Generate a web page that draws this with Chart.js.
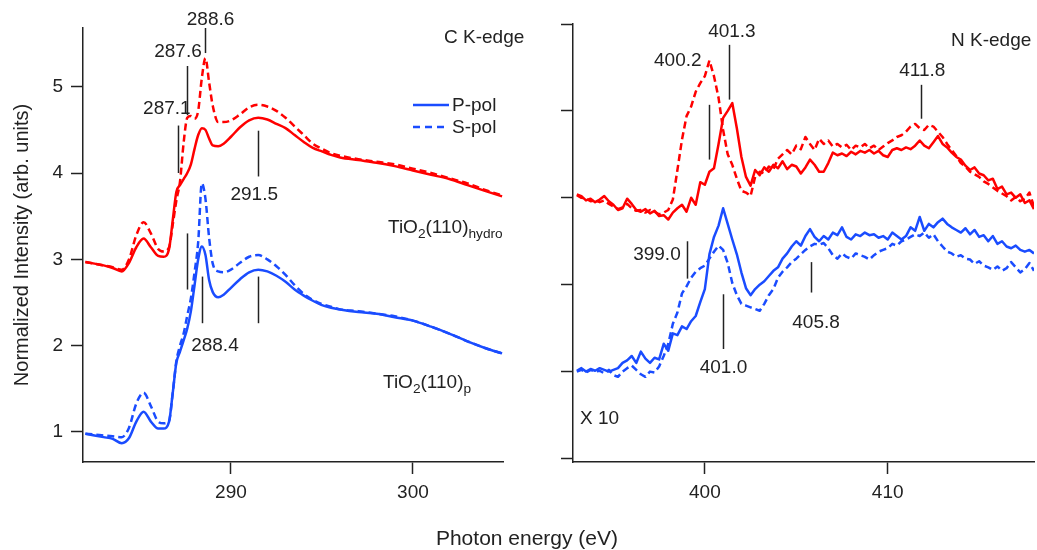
<!DOCTYPE html>
<html>
<head>
<meta charset="utf-8">
<script src="https://cdn.jsdelivr.net/npm/chart.js@4.4.1/dist/chart.umd.min.js"></script>
<style>
  html, body { margin:0; padding:0; background:#fff; }
  #wrap { position:relative; width:1037px; height:550px; background:#fff; overflow:hidden; }
  canvas { position:absolute; top:0; }
  .t { position:absolute; font-family:'Liberation Sans', Arial, sans-serif; font-size:19px; line-height:20px; color:#222; white-space:nowrap; }
  .t sub { font-size:0.72em; vertical-align:-0.35em; line-height:0; }
</style>
</head>
<body>
<div id="wrap">
  <canvas id="cL" width="520" height="550" style="left:0"></canvas>
  <canvas id="cR" width="497" height="550" style="left:540px"></canvas>
  <div class="t" style="left:444px;top:27px">C K-edge</div>
  <div class="t" style="left:951px;top:30px">N K-edge</div>
  <div class="t" style="left:580px;top:408px">X 10</div>
  <div class="t" style="left:388px;top:217px">TiO<sub>2</sub>(110)<sub>hydro</sub></div>
  <div class="t" style="left:383px;top:372px">TiO<sub>2</sub>(110)<sub>p</sub></div>
  <svg style="position:absolute;left:413px;top:95px" width="36" height="40">
    <line x1="0" y1="10" x2="36" y2="10" stroke="#1a4cff" stroke-width="2.5"/>
    <line x1="0" y1="32" x2="36" y2="32" stroke="#1a4cff" stroke-width="2.5" stroke-dasharray="7 5"/>
  </svg>
  <div class="t" style="left:452px;top:95px">P-pol</div>
  <div class="t" style="left:452px;top:117px">S-pol</div>
  <div class="t" style="left:0;width:1054px;text-align:center;top:527px;font-size:21px;line-height:22px">Photon energy (eV)</div>
</div>
<script>
// ---------- C K-edge panel data ----------
const cEnergy = [282.0,282.5,283.0,283.5,284.0,284.4,284.8,285.2,285.6,286.0,286.3,286.6,286.8,287.0,287.2,287.4,287.6,287.8,288.0,288.2,288.4,288.6,288.8,289.0,289.3,289.6,290.0,290.5,291.0,291.5,292.0,292.5,293.0,293.5,294.0,294.5,295.0,295.5,296.0,297.0,298.0,299.0,300.0,301.0,302.0,303.0,304.0,304.9];
const cHydroP = [2.97,2.95,2.93,2.90,2.86,2.96,3.14,3.24,3.14,3.04,3.03,3.12,3.45,3.78,3.86,3.93,4.00,4.10,4.28,4.44,4.52,4.50,4.40,4.32,4.31,4.34,4.42,4.53,4.61,4.64,4.62,4.57,4.52,4.44,4.36,4.29,4.25,4.21,4.18,4.15,4.12,4.08,4.03,3.98,3.93,3.86,3.79,3.73];
const cHydroS = [2.97,2.95,2.93,2.91,2.88,3.00,3.28,3.43,3.30,3.12,3.09,3.14,3.40,3.68,3.90,4.35,4.64,4.66,4.63,4.72,5.10,5.33,5.05,4.78,4.59,4.59,4.61,4.68,4.76,4.79,4.77,4.72,4.64,4.54,4.44,4.34,4.28,4.23,4.20,4.16,4.13,4.10,4.05,4.00,3.94,3.88,3.80,3.74];
const cCleanP = [0.98,0.96,0.94,0.92,0.87,0.93,1.12,1.235,1.12,1.04,1.04,1.12,1.45,1.80,1.93,2.06,2.20,2.40,2.70,3.00,3.15,3.05,2.76,2.62,2.56,2.59,2.67,2.77,2.85,2.88,2.86,2.81,2.74,2.65,2.58,2.52,2.47,2.44,2.42,2.39,2.37,2.33,2.29,2.22,2.14,2.05,1.97,1.91];
const cCleanS = [0.98,0.97,0.96,0.95,0.94,1.05,1.33,1.455,1.30,1.12,1.10,1.13,1.45,1.82,2.00,2.14,2.35,2.55,2.85,3.20,3.88,3.70,3.25,2.95,2.86,2.85,2.88,2.96,3.03,3.05,3.00,2.92,2.82,2.70,2.60,2.53,2.48,2.45,2.42,2.40,2.37,2.34,2.29,2.22,2.14,2.05,1.97,1.91];
const cXTicks = [290, 300];
const cYTicks = [1, 2, 3, 4, 5];
const cMarkX  = [287.1, 287.6, 288.6, 291.5, 287.6, 288.4, 291.5];
const cMarkLo = [4.00, 4.67, 5.39, 3.96, 2.65, 2.26, 2.26];
const cMarkHi = [4.55, 5.24, 5.68, 4.49, 3.30, 2.80, 2.80];
const cLabelText = ['287.1', '287.6', '288.6', '291.5', '288.4'];
const cLabelX = [286.48, 287.09, 288.88, 291.28, 289.12];
const cLabelY = [4.75, 5.41, 5.77, 3.75, 2.00];

// ---------- N K-edge panel data ----------
const nEnergy = [393,393.25,393.5,393.75,394,394.25,394.5,394.75,395,395.25,395.5,395.75,396,396.25,396.5,396.75,397,397.25,397.5,397.75,398,398.25,398.5,398.75,399,399.25,399.5,399.75,400,400.25,400.5,400.75,401,401.25,401.5,401.75,402,402.25,402.5,402.75,403,403.25,403.5,403.75,404,404.25,404.5,404.75,405,405.25,405.5,405.75,406,406.25,406.5,406.75,407,407.25,407.5,407.75,408,408.25,408.5,408.75,409,409.25,409.5,409.75,410,410.25,410.5,410.75,411,411.25,411.5,411.75,412,412.25,412.5,412.75,413,413.25,413.5,413.75,414,414.25,414.5,414.75,415,415.25,415.5,415.75,416,416.25,416.5,416.75,417,417.25,417.5,417.75,418];
const nHydroP = [3.04,3.02,2.97,2.99,2.95,2.98,3.02,2.96,2.92,2.86, 2.88,2.99,2.93,2.86,2.84,2.87,2.82,2.85,2.79,2.80, 2.75,2.83,2.88,2.92,2.84,3.00,2.92,3.18,3.15,3.30, 3.34,3.62,3.92,4.00,4.09,3.80,3.47,3.24,3.14,3.32, 3.26,3.35,3.30,3.38,3.34,3.42,3.33,3.38,3.36,3.28, 3.35,3.44,3.38,3.30,3.30,3.40,3.52,3.49,3.51,3.48, 3.53,3.50,3.54,3.52,3.55,3.51,3.54,3.49,3.47,3.55, 3.57,3.55,3.58,3.56,3.60,3.66,3.60,3.57,3.64,3.71, 3.62,3.58,3.52,3.47,3.44,3.37,3.32,3.35,3.28,3.26, 3.20,3.22,3.10,3.13,3.04,3.06,3.00,3.04,2.94,2.97, 2.87];
const nHydroS = [3.03,3.00,2.99,2.96,2.97,2.95,2.97,2.93,2.90,2.87, 2.89,2.93,2.88,2.85,2.86,2.83,2.86,2.84,2.81,2.83, 2.86,2.98,3.32,3.67,3.94,4.05,4.22,4.32,4.40,4.58, 4.40,4.15,3.78,3.50,3.38,3.22,3.08,3.06,3.02,3.24, 3.30,3.28,3.36,3.33,3.45,3.50,3.55,3.50,3.60,3.56, 3.70,3.62,3.55,3.68,3.62,3.66,3.59,3.62,3.58,3.61, 3.55,3.60,3.58,3.62,3.57,3.60,3.55,3.59,3.63,3.66, 3.70,3.72,3.76,3.82,3.85,3.80,3.78,3.84,3.82,3.76, 3.70,3.62,3.55,3.48,3.40,3.36,3.30,3.27,3.24,3.19, 3.16,3.12,3.08,3.05,3.02,2.97,3.01,2.96,2.99,3.06, 2.90];
const nCleanP = [1.01,1.04,1.00,1.03,1.01,1.04,1.02,1.00,1.02,1.04, 1.10,1.13,1.18,1.10,1.23,1.15,1.10,1.16,1.14,1.32, 1.24,1.44,1.42,1.52,1.49,1.58,1.64,1.80,1.95,2.35, 2.55,2.68,2.88,2.70,2.52,2.35,2.14,1.96,1.88,1.95, 2.00,2.04,2.10,2.16,2.20,2.30,2.36,2.44,2.50,2.45, 2.56,2.64,2.55,2.50,2.56,2.52,2.60,2.57,2.66,2.55, 2.52,2.58,2.56,2.60,2.57,2.58,2.54,2.56,2.52,2.60, 2.56,2.52,2.56,2.66,2.62,2.78,2.62,2.70,2.66,2.72, 2.76,2.70,2.66,2.63,2.60,2.65,2.58,2.63,2.55,2.57, 2.50,2.56,2.47,2.50,2.44,2.42,2.45,2.40,2.38,2.40, 2.36];
const nCleanS = [1.00,1.02,0.99,1.02,1.00,1.01,0.98,1.02,0.96,0.94, 1.00,1.04,1.07,1.02,0.97,0.94,1.00,0.99,1.06,1.18, 1.32,1.55,1.68,1.90,1.98,2.08,2.15,2.19,2.22,2.30, 2.38,2.45,2.40,2.25,2.02,1.88,1.78,1.76,1.74,1.72, 1.70,1.78,1.88,1.95,2.08,2.15,2.20,2.26,2.30,2.35, 2.40,2.44,2.47,2.46,2.48,2.42,2.34,2.30,2.36,2.32, 2.30,2.36,2.34,2.32,2.29,2.34,2.38,2.40,2.42,2.47, 2.45,2.50,2.52,2.55,2.58,2.56,2.60,2.54,2.58,2.50, 2.44,2.38,2.36,2.32,2.34,2.30,2.29,2.24,2.27,2.22, 2.20,2.17,2.21,2.16,2.19,2.26,2.20,2.14,2.18,2.25, 2.16];
const nXTicks = [400, 410];
const nYTicks = [0, 1, 2, 3, 4, 5];
const nMarkX  = [400.2, 401.3, 411.8, 399.0, 401.0, 405.8];
const nMarkLo = [3.44, 4.13, 3.91, 2.07, 1.26, 1.91];
const nMarkHi = [4.07, 4.76, 4.30, 2.50, 1.89, 2.26];
const nLabelText = ['400.2', '401.3', '411.8', '399.0', '401.0', '405.8'];
const nLabelX = [398.52, 401.48, 411.89, 397.38, 401.02, 406.08];
const nLabelY = [4.58, 4.91, 4.46, 2.34, 1.04, 1.56];

// ---------- styling ----------
const RED = '#ff0000', BLUE = '#1a4cff', INK = '#222';
const FONT = "'Liberation Sans', Arial, sans-serif";
Chart.defaults.font.family = FONT;
Chart.defaults.color = INK;

function pts(xs, ys) { return xs.map((x, i) => ({ x: x, y: ys[i] })); }
function line(xs, ys, color, dashed, smooth) {
  return {
    data: pts(xs, ys), borderColor: color, borderWidth: 2.5, pointRadius: 0,
    borderDash: dashed ? [7, 4] : [], fill: false,
    cubicInterpolationMode: smooth ? 'monotone' : 'default', tension: 0,
    borderJoinStyle: 'round', borderCapStyle: 'butt'
  };
}
function markerPlugin(mx, lo, hi, lt, lx, ly) {
  return {
    id: 'markers',
    afterDatasetsDraw(chart) {
      const ctx = chart.ctx, xs = chart.scales.x, ys = chart.scales.y;
      ctx.save();
      ctx.strokeStyle = INK; ctx.lineWidth = 1.5;
      mx.forEach((x, i) => {
        const px = Math.round(xs.getPixelForValue(x)) + 0.5;
        ctx.beginPath();
        ctx.moveTo(px, ys.getPixelForValue(lo[i]));
        ctx.lineTo(px, ys.getPixelForValue(hi[i]));
        ctx.stroke();
      });
      ctx.fillStyle = INK; ctx.font = '19px ' + FONT;
      ctx.textAlign = 'center'; ctx.textBaseline = 'middle';
      lt.forEach((t, i) => ctx.fillText(t, xs.getPixelForValue(lx[i]), ys.getPixelForValue(ly[i])));
      ctx.restore();
    }
  };
}
function axisCommon(tickVals, showLabels) {
  return {
    type: 'linear',
    afterBuildTicks: s => { s.ticks = tickVals.map(v => ({ value: v })); },
    border: { display: true, color: INK, width: 1.5 },
    grid: { display: true, drawOnChartArea: false, drawTicks: true, tickLength: 12, tickColor: INK, tickWidth: 1.5 },
    ticks: { display: showLabels, color: INK, font: { size: 19, family: FONT }, maxRotation: 0, autoSkip: false, padding: 7 }
  };
}

const baseOpts = {
  responsive: false, animation: false, devicePixelRatio: 1,
  plugins: { legend: { display: false }, tooltip: { enabled: false } },
  elements: { line: { borderWidth: 2.5 } }
};

// Left: C K-edge
const cx = axisCommon(cXTicks, true);
Object.assign(cx, { min: 281.87, max: 304.95, afterFit: s => { s.height = 88; } });
const cy = axisCommon(cYTicks, true);
Object.assign(cy, {
  min: 0.652, max: 5.68, afterFit: s => { s.width = 83; },
  title: { display: true, text: 'Normalized Intensity (arb. units)', color: INK, font: { size: 20, family: FONT }, padding: { top: 10, bottom: 0 } }
});
cy.ticks.padding = 8;
new Chart(document.getElementById('cL'), {
  type: 'line',
  data: { datasets: [
    line(cEnergy, cHydroP, RED, false, true),
    line(cEnergy, cCleanP, BLUE, false, true),
    line(cEnergy, cHydroS, RED, true, true),
    line(cEnergy, cCleanS, BLUE, true, true)
  ] },
  options: Object.assign({}, baseOpts, {
    layout: { padding: { top: 28, right: 17, left: 0, bottom: 0 } },
    scales: { x: cx, y: cy }
  }),
  plugins: [markerPlugin(cMarkX, cMarkLo, cMarkHi, cLabelText, cLabelX, cLabelY)]
});

// Right: N K-edge (x10)
const nx = axisCommon(nXTicks, true);
Object.assign(nx, { min: 392.79, max: 418.0, afterFit: s => { s.height = 88; } });
const ny = axisCommon(nYTicks, false);
Object.assign(ny, { min: -0.04, max: 5.0, afterFit: s => { s.width = 33; } });
new Chart(document.getElementById('cR'), {
  type: 'line',
  data: { datasets: [
    line(nEnergy, nHydroP, RED, false, false),
    line(nEnergy, nCleanP, BLUE, false, false),
    line(nEnergy, nHydroS, RED, true, false),
    line(nEnergy, nCleanS, BLUE, true, false)
  ] },
  options: Object.assign({}, baseOpts, {
    layout: { padding: { top: 24, right: 3, left: 0, bottom: 0 } },
    scales: { x: nx, y: ny }
  }),
  plugins: [markerPlugin(nMarkX, nMarkLo, nMarkHi, nLabelText, nLabelX, nLabelY)]
});
</script>
</body>
</html>
